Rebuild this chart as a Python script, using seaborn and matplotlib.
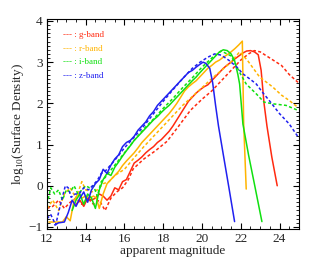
import matplotlib
matplotlib.use("Agg")
import matplotlib.pyplot as plt
import numpy as np
import pandas as pd
import seaborn as sns
from matplotlib.ticker import MultipleLocator

# g-band (red)
g_solid_x = [13.5, 13.7, 13.9, 14.1, 14.3, 14.5, 14.7, 14.9, 15.1, 15.3, 15.5, 15.7, 15.9, 16.1, 16.3,
             16.5, 16.7, 16.9, 17.1, 17.3, 17.5, 17.7, 17.9, 18.1, 18.3, 18.5, 18.7, 18.9, 19.1, 19.3,
             19.5, 19.7, 19.9, 20.1, 20.3, 20.5, 20.7, 20.9, 21.1, 21.3, 21.5, 21.7, 21.9, 22.1, 22.3,
             22.5, 22.7, 22.9, 23.05, 23.2, 23.35, 23.6, 23.88]
g_solid_y = [-0.45, -0.35, -0.5, -0.3, -0.35, -0.3, -0.2, -0.25, -0.35, -0.25, -0.05, -0.1, 0.1, 0.15, 0.35,
             0.55, 0.62, 0.7, 0.8, 0.88, 0.95, 1.05, 1.12, 1.22, 1.32, 1.45, 1.6, 1.75, 1.9, 2.05,
             2.15, 2.25, 2.33, 2.4, 2.45, 2.55, 2.65, 2.75, 2.85, 2.93, 3.0, 3.08, 3.15, 3.22, 3.27,
             3.28, 3.25, 3.18, 2.8, 2.0, 1.45, 0.7, 0.0]
g_dash_x = [12.0, 12.3, 12.6, 12.9, 13.2, 13.5, 13.8, 14.1, 14.4, 14.7, 15.0, 15.3, 15.6, 15.9, 16.2,
            16.45, 17.0, 17.6, 18.2, 18.8, 19.4, 20.0, 20.5, 21.0, 21.5, 22.0, 22.4, 22.7, 23.0, 23.5,
            24.1, 24.5, 24.95]
g_dash_y = [-0.55, -0.5, -0.35, -0.55, -0.4, -0.3, -0.45, -0.3, -0.45, -0.35, -0.6, -0.3, -0.15, -0.05, 0.15,
            0.41, 0.65, 0.85, 1.08, 1.45, 1.83, 2.1, 2.3, 2.55, 2.8, 3.05, 3.2, 3.28, 3.25, 3.1,
            2.92, 2.7, 2.51]

# r-band (orange)
r_solid_x = [12.1, 12.4, 12.8, 13.0, 13.2, 13.4, 13.6, 13.8, 14.0, 14.2, 14.4, 14.55, 14.7, 14.9, 15.1,
             15.3, 15.5, 15.7, 15.9, 16.1, 16.3, 16.5, 16.7, 16.9, 17.1, 17.3, 17.5, 17.7, 17.9, 18.1,
             18.3, 18.5, 18.7, 18.9, 19.1, 19.3, 19.5, 19.7, 19.9, 20.1, 20.3, 20.5, 20.7, 20.9, 21.1,
             21.3, 21.5, 21.7, 21.9, 22.08, 22.15, 22.28]
r_solid_y = [-0.88, -0.88, -0.88, -0.75, -0.85, -0.35, -0.2, -0.3, -0.25, -0.3, -0.25, -0.3, -0.55, -0.2, 0.05,
             0.15, 0.25, 0.35, 0.49, 0.6, 0.7, 0.8, 0.92, 1.05, 1.15, 1.25, 1.35, 1.45, 1.55, 1.65,
             1.75, 1.87, 2.0, 2.15, 2.3, 2.4, 2.48, 2.55, 2.65, 2.75, 2.85, 2.92, 3.0, 3.05, 3.12,
             3.18, 3.25, 3.33, 3.42, 3.51, 1.5, -0.08]
r_dash_x = [12.0, 12.3, 12.6, 12.9, 13.2, 13.5, 13.8, 14.0, 14.3, 14.6, 14.9, 15.2, 15.5, 16.0, 16.5,
            17.0, 17.5, 18.0, 18.5, 19.0, 19.7, 20.5, 21.0, 21.5, 21.94, 22.35, 22.97, 23.64, 24.1,
            24.5, 24.95]
r_dash_y = [-0.55, -0.35, -0.6, -0.2, -0.05, -0.3, 0.1, -0.1, -0.15, -0.1, 0.05, 0.1, 0.25, 0.4, 0.68,
            0.95, 1.2, 1.45, 1.7, 1.95, 2.25, 2.6, 2.8, 3.0, 3.25, 3.04, 2.64, 2.4, 2.2,
            2.07, 1.9]

# i-band (green)
i_solid_x = [13.3, 13.5, 13.7, 13.9, 14.1, 14.3, 14.5, 14.7, 14.9, 15.1, 15.3, 15.5, 15.7, 15.9, 16.1,
             16.3, 16.5, 16.7, 16.9, 17.1, 17.3, 17.5, 17.7, 17.9, 18.1, 18.3, 18.5, 18.7, 18.9, 19.1,
             19.3, 19.5, 19.7, 19.9, 20.1, 20.3, 20.5, 20.7, 20.9, 21.1, 21.3, 21.5, 21.68, 21.85, 21.94,
             22.11, 22.4, 22.7, 23.09]
i_solid_y = [-0.6, -0.35, -0.2, -0.45, -0.2, -0.3, -0.55, -0.1, 0.15, 0.3, 0.25, 0.45, 0.58, 0.72, 0.85,
             0.97, 1.1, 1.2, 1.3, 1.4, 1.5, 1.6, 1.68, 1.78, 1.87, 1.95, 2.05, 2.15, 2.25, 2.35,
             2.45, 2.55, 2.64, 2.75, 2.85, 2.95, 3.05, 3.15, 3.25, 3.3, 3.28, 3.2, 3.04, 2.7, 2.47,
             1.5, 0.75, 0.05, -0.87]
i_dash_x = [12.0, 12.2, 12.4, 12.6, 12.8, 13.0, 13.2, 13.4, 13.6, 13.8, 14.0, 14.2, 14.4, 14.6, 14.8,
            15.0, 15.5, 16.0, 16.5, 17.0, 17.5, 18.0, 18.5, 19.0, 19.5, 20.0, 20.5, 21.0, 21.5, 22.0,
            22.28, 22.8, 23.2, 23.64, 24.34, 24.95]
i_dash_y = [-0.45, -0.05, -0.2, -0.1, -0.35, -0.1, -0.15, 0.0, -0.2, -0.1, 0.0, -0.05, 0.0, -0.25, 0.1,
            0.2, 0.5, 0.8, 1.1, 1.38, 1.62, 1.88, 2.12, 2.38, 2.62, 2.88, 3.1, 3.27, 3.15, 2.7,
            2.47, 2.23, 2.03, 1.99, 1.95, 1.83]

# z-band (blue)
z_solid_x = [12.4, 12.6, 12.9, 13.1, 13.3, 13.5, 13.7, 13.9, 14.1, 14.3, 14.5, 14.7, 14.9, 15.1, 15.3,
             15.5, 15.7, 15.9, 16.1, 16.3, 16.5, 16.7, 16.9, 17.1, 17.3, 17.5, 17.7, 17.9, 18.1, 18.3,
             18.5, 18.7, 18.9, 19.1, 19.3, 19.5, 19.7, 19.9, 20.05, 20.2, 20.4, 20.55, 20.7, 20.85, 21.1,
             21.4, 21.68]
z_solid_y = [-0.95, -0.9, -0.88, -0.65, -0.35, -0.5, -0.3, -0.15, -0.4, -0.1, 0.05, 0.15, 0.4, 0.3, 0.5,
             0.65, 0.75, 0.95, 1.05, 1.1, 1.2, 1.35, 1.45, 1.55, 1.7, 1.8, 1.95, 2.05, 2.15, 2.25,
             2.35, 2.45, 2.55, 2.65, 2.75, 2.8, 2.88, 2.95, 3.0, 2.97, 2.85, 2.5, 1.95, 1.45, 0.75,
             -0.08, -0.87]
z_dash_x = [12.0, 12.2, 12.45, 12.7, 12.95, 13.1, 13.25, 13.45, 13.65, 13.9, 14.15, 14.35, 14.6, 14.8, 15.0,
            15.5, 16.0, 16.5, 17.0, 17.5, 18.0, 18.5, 19.0, 19.5, 19.9, 20.3, 20.65, 21.0, 21.4, 21.8,
            22.1, 22.5, 22.8, 23.1, 23.5, 24.0, 24.5, 24.95]
z_dash_y = [-0.8, -0.7, -0.95, -0.45, 0.0, -0.05, -0.28, -0.2, -0.2, -0.05, -0.1, 0.0, 0.13, 0.3, 0.35,
            0.62, 0.92, 1.18, 1.45, 1.75, 2.05, 2.33, 2.6, 2.85, 3.0, 3.12, 3.2, 3.17, 3.04, 2.88,
            2.72, 2.58, 2.47, 2.28, 2.05, 1.75, 1.5, 1.19]

bands = ['g-band', 'r-band', 'i-band', 'z-band']
colors = ['#ff2a10', '#ffb400', '#10e010', '#2020f0']
solid = [(g_solid_x, g_solid_y), (r_solid_x, r_solid_y), (i_solid_x, i_solid_y), (z_solid_x, z_solid_y)]
dashed = [(g_dash_x, g_dash_y), (r_dash_x, r_dash_y), (i_dash_x, i_dash_y), (z_dash_x, z_dash_y)]

sns.set_style("ticks")
plt.rcParams['font.family'] = ['Liberation Serif', 'DejaVu Serif']
plt.rcParams['mathtext.fontset'] = 'custom'
plt.rcParams['mathtext.rm'] = 'Liberation Serif'

fig = plt.figure(figsize=(3.15, 2.66), dpi=100)
ax = fig.add_axes([0.149, 0.139, 0.8, 0.79])

for (sx, sy), (dx, dy), c in zip(solid, dashed, colors):
    sns.lineplot(x=dx, y=dy, ax=ax, color=c, lw=1.1, sort=False,
                 linestyle=(0, (2.0, 1.5)))
    sns.lineplot(x=sx, y=sy, ax=ax, color=c, lw=1.1, sort=False)

# legend as coloured text lines
for k, (b, c) in enumerate(zip(bands, colors)):
    ax.text(0.063, 0.921 - k * 0.064, f'--- : {b}', color=c, fontsize=6.5,
            transform=ax.transAxes, va='center', ha='left')

ax.set_xlim(12, 25)
ax.set_ylim(-1.05, 4.05)
ax.xaxis.set_major_locator(MultipleLocator(2))
ax.xaxis.set_minor_locator(MultipleLocator(0.5))
ax.yaxis.set_major_locator(MultipleLocator(1))
ax.yaxis.set_minor_locator(MultipleLocator(0.1))
ax.tick_params(which='both', direction='in', top=True, right=True, color='black')
ax.tick_params(which='major', length=4, width=0.8, labelsize=9.5, pad=3)
ax.tick_params(which='minor', length=2, width=0.6)
for sp in ax.spines.values():
    sp.set_linewidth(0.8)
    sp.set_color('black')

ax.set_xlabel('apparent magnitude', fontsize=9.5, labelpad=0)
ax.set_ylabel(r'log$_{\rm 10}$(Surface Density)', fontsize=9.5, labelpad=2)

fig.savefig('out.png', dpi=100)
